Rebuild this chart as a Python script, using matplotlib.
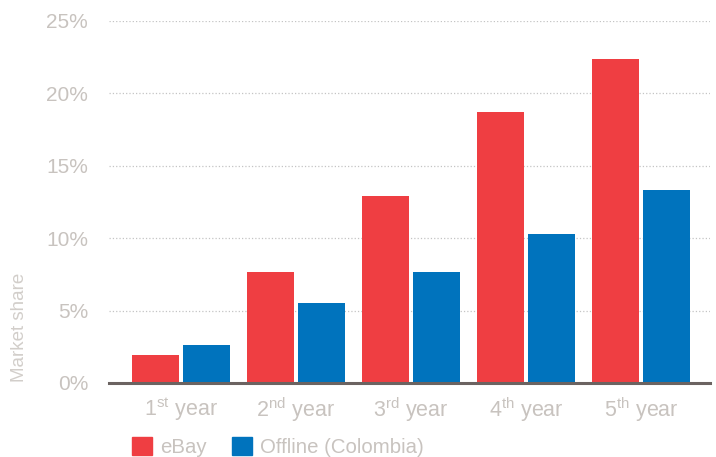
"""
eBay vs offline market share by year (grouped bars).
"""
import matplotlib
matplotlib.use("Agg")
import matplotlib.pyplot as plt
import numpy as np
from matplotlib.patches import Patch
from matplotlib.ticker import FuncFormatter

YEARS = [r"1$^{\mathrm{st}}$ year", r"2$^{\mathrm{nd}}$ year", r"3$^{\mathrm{rd}}$ year",
         r"4$^{\mathrm{th}}$ year", r"5$^{\mathrm{th}}$ year"]
EBAY = [1.9, 7.7, 12.9, 18.7, 22.4]
OFFLINE = [2.6, 5.5, 7.7, 10.3, 13.3]
SERIES = ["eBay", "Offline (Colombia)"]

RED = "#EF3E42"
BLUE = "#0073BD"
TEXT = "#C8C3BF"
AXIS = "#6B6361"

plt.rcParams["font.family"] = ["Liberation Sans", "DejaVu Sans"]
plt.rcParams["mathtext.fontset"] = "custom"
plt.rcParams["mathtext.rm"] = "Liberation Sans"

fig = plt.figure(figsize=(7.16, 4.57), dpi=100)
ax = fig.add_axes([109 / 716, 1 - 383 / 457, (710 - 109) / 716, (383 - 21) / 457])

x = np.arange(len(YEARS))
w = 0.41
off = 0.222
ax.bar(x - off, EBAY, width=w, color=RED, zorder=2)
ax.bar(x + off, OFFLINE, width=w, color=BLUE, zorder=2)

ax.set_xlim(-0.626, 4.6)
ax.set_ylim(0, 25)
ax.set_yticks(range(0, 26, 5))
ax.yaxis.set_major_formatter(FuncFormatter(lambda v, _: f"{v:.0f}%"))
ax.set_xticks(x)
ax.set_xticklabels(YEARS)

ax.grid(axis="y", linestyle=":", linewidth=0.9, color="#C4C4C4", zorder=0)
ax.set_axisbelow(True)
for s in ["top", "right", "left"]:
    ax.spines[s].set_visible(False)
ax.spines["bottom"].set_color(AXIS)
ax.spines["bottom"].set_linewidth(2.2)
ax.spines["bottom"].set_zorder(3)

ax.tick_params(axis="y", length=0, pad=15, labelsize=15, labelcolor=TEXT)
ax.tick_params(axis="x", length=0, pad=9, labelsize=15.5, labelcolor=TEXT)

fig.text(20 / 716, 1 - 327 / 457, "Market share", rotation=90, ha="center",
         va="center", fontsize=13.5, color="#D2CECA")

handles = [Patch(color=RED), Patch(color=BLUE)]
leg = fig.legend(handles, SERIES, loc="upper left", bbox_to_anchor=(132 / 716, 1 - 437 / 457),
                 ncol=2, frameon=False, fontsize=14.7, handlelength=0.98, handleheight=1.0,
                 handletextpad=0.4, columnspacing=1.22, borderpad=0, borderaxespad=0)
for t in leg.get_texts():
    t.set_color(TEXT)

fig.savefig("out.png", dpi=100, facecolor="white")
